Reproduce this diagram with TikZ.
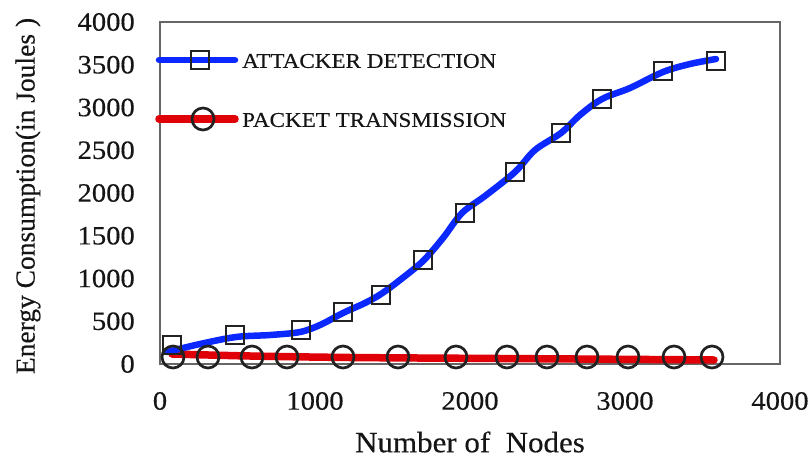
\documentclass[tikz,border=0pt]{standalone}
\usepackage{fontspec}
\usepackage{graphicx}
\setmainfont{Liberation Serif}[FakeBold=0.35]
\newfontfamily\plainserif{Liberation Serif}[FakeBold=0.35]
\definecolor{plotblue}{HTML}{0A28FF}
\definecolor{plotred}{HTML}{E00008}
\definecolor{mk}{HTML}{222222}
\definecolor{frame}{HTML}{666666}
\definecolor{txt}{HTML}{151515}
\begin{document}
\begin{tikzpicture}[x=1pt,y=-1pt,
  ticklab/.style={font=\fontsize{26.5}{26.5}\selectfont, text=txt, inner sep=0pt},
  axlab/.style={font=\fontsize{29.5}{29.5}\selectfont, text=txt, inner sep=0pt},
  legtext/.style={font=\fontsize{21}{21}\selectfont, text=txt, inner sep=0pt, anchor=west},
  blueline/.style={draw=plotblue, line width=6.5pt, line cap=round, line join=round},
  redline/.style={draw=plotred, line width=7.5pt, line cap=round, line join=round},
  sq/.style={rectangle, draw=mk, line width=2.7pt, minimum size=18pt, inner sep=0pt},
  ci/.style={circle, draw=mk, line width=2.7pt, minimum size=22pt, inner sep=0pt}]
\useasboundingbox (0,0) rectangle (812,461);
% frame
\draw[frame, line width=1.3pt] (160,22) rectangle (780,364);
% y tick labels
\foreach \v in {0,500,1000,1500,2000,2500,3000,3500,4000}
  \node[ticklab, anchor=east] (yt\v) at (135,{364-\v*0.0855}) {\scalebox{1.08}[1]{\v}};
% x tick labels
\foreach \v in {0,1000,2000,3000,4000}
  \node[ticklab] (xt\v) at ({160+\v*0.155},401) {\scalebox{1.08}[1]{\v}};
% axis labels
\node[axlab] (xlab) at (470,442) {\scalebox{1.05}[1]{Number of\ \ Nodes}};
\node[font=\fontsize{27.5}{27.5}\selectfont, text=txt, inner sep=0pt, rotate=90] (ylab) at (28,196) {Energy Consumption(in Joules )};
% red curve
\draw[redline] plot[smooth] coordinates {(172,354) (250,356) (350,357.5) (500,358.5) (650,359.5) (714,360)};
% blue curve
\draw[blueline] plot[smooth, tension=0.55] coordinates {(167,352) (200,344) (236,337) (270,335) (300,332) (320,325) (343,313) (365,303) (381,294) (400,280) (423,261) (443,238) (462,213) (485,196) (515,172) (535,150) (561,133) (580,115) (602,99) (630,88) (663,72) (690,64) (716,59)};
% squares
\foreach \px/\py [count=\i] in {172/345,235/335,301/330,343/312,381/295,423/260,465/213,515/172,561/133,602/99,663/71,716/61}
  \node[sq] (s\i) at (\px,\py) {};
% circles
\foreach \px [count=\i] in {173,208,252,287,343,398,456,507,547,587,628,674,712}
  \node[ci] (c\i) at (\px,357) {};
% legend
\coordinate (lb1) at (159,60);
\coordinate (lb2) at (235,60);
\draw[blueline] (lb1) -- (lb2);
\node[sq] (lsq) at (200,60) {};
\node[legtext] (lt1) at (242,61) {\scalebox{1.1}[1]{ATTACKER DETECTION}};
\coordinate (lr1) at (159,119);
\coordinate (lr2) at (235,119);
\draw[redline] (lr1) -- (lr2);
\node[ci] (lci) at (203,119) {};
\node[legtext] (lt2) at (242,120) {\scalebox{1.1}[1]{PACKET TRANSMISSION}};
\end{tikzpicture}
\end{document}
